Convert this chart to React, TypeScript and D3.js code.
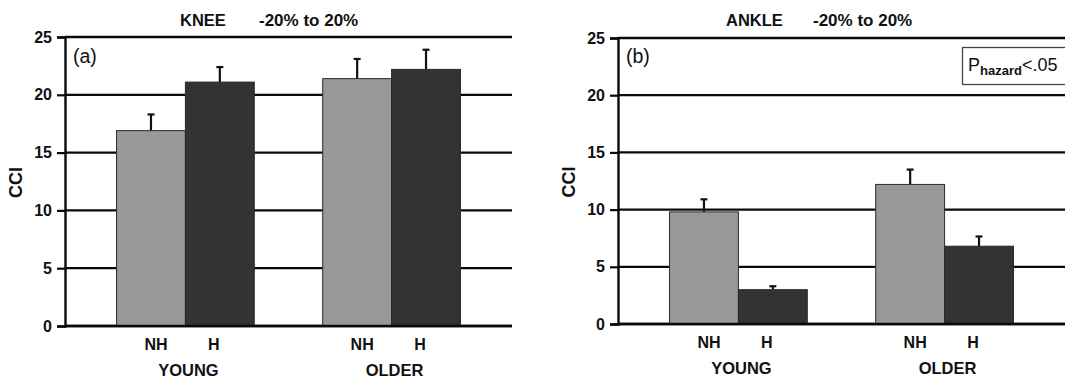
import React, { useEffect, useRef } from 'react';
import * as d3 from 'd3';

const groups = ['YOUNG', 'OLDER'];
const conditions = ['NH', 'H'];
const yTicks = [0, 5, 10, 15, 20, 25];

// mean CCI and upper error, order: YOUNG NH, YOUNG H, OLDER NH, OLDER H
const kneeMeans = [16.9, 21.1, 21.4, 22.2];
const kneeErrors = [1.4, 1.3, 1.7, 1.7];
const ankleMeans = [9.8, 3.0, 12.2, 6.8];
const ankleErrors = [1.1, 0.3, 1.3, 0.85];

const FONT = '"Liberation Sans", Arial, Helvetica, sans-serif';

interface PanelSpec {
  left: number;
  title: string;
  tag: string;
  means: number[];
  errors: number[];
  y0: number;
  y25: number;
  ccix: number;
}

const App: React.FC = () => {
  const svgRef = useRef<SVGSVGElement>(null);

  useEffect(() => {
    if (!svgRef.current) return;
    const svg = d3.select(svgRef.current);
    svg.selectAll('*').remove();

    const plotWidth = 447;

    const panels: PanelSpec[] = [
      { left: 65, title: 'KNEE', tag: '(a)', means: kneeMeans, errors: kneeErrors, y0: 326, y25: 37, ccix: 16 },
      { left: 618, title: 'ANKLE', tag: '(b)', means: ankleMeans, errors: ankleErrors, y0: 324, y25: 38, ccix: 569 },
    ];

    panels.forEach((p, pi) => {
      const g = svg.append('g').attr('transform', `translate(${p.left},0)`);

      const yScale = d3.scaleLinear().domain([0, 25]).range([p.y0, p.y25]);
      const xGroup = d3.scaleBand()
        .domain(groups)
        .range([0, plotWidth])
        .paddingInner(0.332)
        .paddingOuter(0.25);
      const xCond = d3.scaleBand()
        .domain(conditions)
        .range([0, xGroup.bandwidth()])
        .padding(0);

      // gridlines
      g.selectAll('line.grid')
        .data(yTicks)
        .enter()
        .append('line')
        .attr('x1', 0)
        .attr('x2', plotWidth)
        .attr('y1', d => yScale(d))
        .attr('y2', d => yScale(d))
        .attr('stroke', '#0a0a0a')
        .attr('stroke-width', 2.3);

      // y axis
      const yAxis = d3.axisLeft(yScale)
        .tickValues(yTicks)
        .tickSize(8)
        .tickPadding(5);
      const ax = g.append('g').call(yAxis);
      ax.select('.domain').attr('stroke', '#0a0a0a').attr('stroke-width', 2.4);
      ax.selectAll('.tick line').attr('stroke', '#0a0a0a').attr('stroke-width', 2.2);
      ax.selectAll('.tick text')
        .style('font-family', FONT)
        .style('font-size', '16px')
        .style('font-weight', '700')
        .style('fill', '#111');

      // bars
      groups.forEach((grp, gi) => {
        conditions.forEach((cond, ci) => {
          const idx = gi * 2 + ci;
          const v = p.means[idx];
          const e = p.errors[idx];
          const x = (xGroup(grp) || 0) + (xCond(cond) || 0);
          const w = xCond.bandwidth();
          const cx = x + w / 2;

          g.append('line')
            .attr('x1', cx)
            .attr('x2', cx)
            .attr('y1', yScale(v))
            .attr('y2', yScale(v + e))
            .attr('stroke', '#111')
            .attr('stroke-width', 2.2);
          g.append('line')
            .attr('x1', cx - 3.5)
            .attr('x2', cx + 3.5)
            .attr('y1', yScale(v + e))
            .attr('y2', yScale(v + e))
            .attr('stroke', '#111')
            .attr('stroke-width', 2.2);

          g.append('rect')
            .attr('x', x)
            .attr('y', yScale(v))
            .attr('width', w)
            .attr('height', yScale(0) - yScale(v))
            .attr('fill', cond === 'NH' ? '#999999' : '#333333')
            .attr('stroke', '#2a2a2a')
            .attr('stroke-width', 1);

          g.append('text')
            .attr('x', cx + (cond === 'NH' ? 5 : -6))
            .attr('y', p.y0 + 24)
            .attr('text-anchor', 'middle')
            .style('font-family', FONT)
            .style('font-size', '16px')
            .style('font-weight', '700')
            .style('fill', '#111')
            .text(cond);
        });

        g.append('text')
          .attr('x', (xGroup(grp) || 0) + xGroup.bandwidth() / 2 + 3)
          .attr('y', p.y0 + 50)
          .attr('text-anchor', 'middle')
          .style('font-family', FONT)
          .style('font-size', '16.5px')
          .style('font-weight', '700')
          .style('fill', '#111')
          .text(grp);
      });

      // redraw baseline over bar borders
      g.append('line')
        .attr('x1', 0)
        .attr('x2', plotWidth)
        .attr('y1', yScale(0))
        .attr('y2', yScale(0))
        .attr('stroke', '#0a0a0a')
        .attr('stroke-width', 2.3);

      // title
      g.append('text')
        .attr('x', pi === 0 ? 115 : 108)
        .attr('y', 26)
        .style('font-family', FONT)
        .style('font-size', '16.5px')
        .style('font-weight', '700')
        .style('fill', '#111')
        .text(p.title);
      g.append('text')
        .attr('x', pi === 0 ? 194 : 195)
        .attr('y', 26)
        .style('font-family', FONT)
        .style('font-size', '17px')
        .style('font-weight', '600')
        .style('fill', '#111')
        .text('-20% to 20%');

      // panel tag
      g.append('text')
        .attr('x', 8)
        .attr('y', 63)
        .style('font-family', FONT)
        .style('font-size', '19.5px')
        .style('fill', '#111')
        .text(p.tag);

      // y label
      svg.append('text')
        .attr('transform', `translate(${p.ccix + 6},${(p.y0 + p.y25) / 2 + 1}) rotate(-90)`)
        .attr('text-anchor', 'middle')
        .style('font-family', FONT)
        .style('font-size', '18px')
        .style('font-weight', '700')
        .style('fill', '#111')
        .text('CCI');
    });

    // significance box on ankle panel
    svg.append('rect')
      .attr('x', 962.5)
      .attr('y', 47.5)
      .attr('width', 120)
      .attr('height', 37)
      .attr('fill', '#fff')
      .attr('stroke', '#444')
      .attr('stroke-width', 1.3);
    const t = svg.append('text')
      .attr('x', 968)
      .attr('y', 71)
      .style('font-family', FONT)
      .style('font-size', '18px')
      .style('fill', '#111');
    t.append('tspan').text('P');
    t.append('tspan')
      .attr('dy', 4)
      .style('font-size', '13px')
      .style('font-weight', '700')
      .text('hazard');
    t.append('tspan').attr('dy', -4).text('<.05');
  }, []);

  return (
    <svg
      ref={svgRef}
      width={1065}
      height={378}
      style={{ position: 'absolute', left: 0, top: 0, background: '#fff' }}
    />
  );
};

export default App;
